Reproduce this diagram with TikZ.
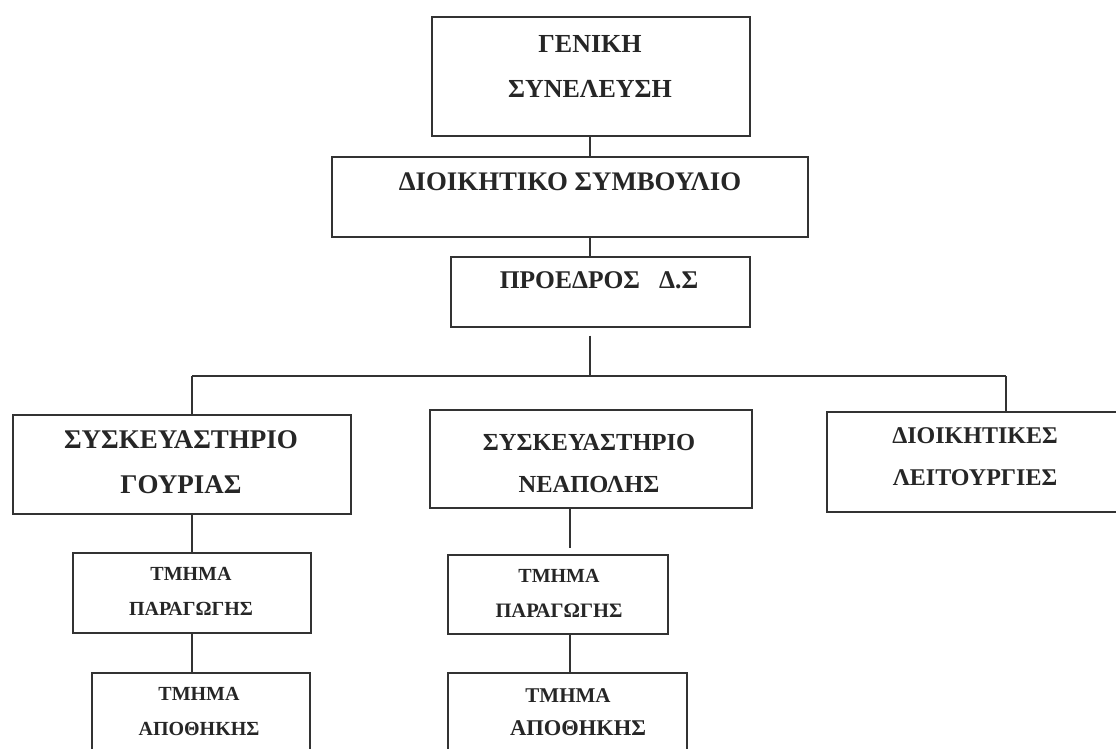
\documentclass[tikz,border=0pt]{standalone}
\usepackage{fontspec}
\setmainfont{Liberation Serif}
\begin{document}
\begin{tikzpicture}[x=1pt,y=-1pt,
  box/.style={draw=black!80,line width=1.3pt,rectangle,inner sep=0pt,minimum width=#1},
  lbl/.style={inner sep=0pt,anchor=base,text=black!85,font=\fontsize{#1pt}{#1pt}\bfseries\selectfont},
  wire/.style={draw=black!80,line width=1.3pt}]
\useasboundingbox (0,0) rectangle (1116,748);
\clip (0,0) rectangle (1116,748);
\fill[white] (0,0) rectangle (1116,748);
% boxes
\node[box=318pt,minimum height=119pt] (b1) at (591,76.5) {};
\node[box=476pt,minimum height=80pt] (b2) at (570,197) {};
\node[box=299pt,minimum height=70pt] (b3) at (600.5,292) {};
\node[box=338pt,minimum height=99pt] (g1) at (182,464.5) {};
\node[box=322pt,minimum height=98pt] (n1) at (591,459) {};
\node[box=298pt,minimum height=100pt] (d1) at (976,462) {};
\node[box=238pt,minimum height=80pt] (gp) at (192,593) {};
\node[box=218pt,minimum height=120pt] (ga) at (201,733) {};
\node[box=220pt,minimum height=79pt] (np) at (558,594.5) {};
\node[box=239pt,minimum height=120pt] (na) at (567.5,733) {};
% texts
\node[lbl=26] (t1a) at (590,52) {ΓΕΝΙΚΗ};
\node[lbl=26] (t1b) at (590,97) {ΣΥΝΕΛΕΥΣΗ};
\node[lbl=26.8] (t2) at (570,190) {ΔΙΟΙΚΗΤΙΚΟ ΣΥΜΒΟΥΛΙΟ};
\node[lbl=25.5] (t3) at (599,288) {ΠΡΟΕΔΡΟΣ\hspace{0.5em} Δ.Σ};
\node[lbl=27] (tg1) at (181,448) {ΣΥΣΚΕΥΑΣΤΗΡΙΟ};
\node[lbl=27] (tg2) at (181,493) {ΓΟΥΡΙΑΣ};
\node[lbl=24.5] (tn1) at (589,450) {ΣΥΣΚΕΥΑΣΤΗΡΙΟ};
\node[lbl=24.5] (tn2) at (589,492) {ΝΕΑΠΟΛΗΣ};
\node[lbl=24] (td1) at (975,443) {ΔΙΟΙΚΗΤΙΚΕΣ};
\node[lbl=24] (td2) at (975,485) {ΛΕΙΤΟΥΡΓΙΕΣ};
\node[lbl=20] (tgp1) at (191,580) {ΤΜΗΜΑ};
\node[lbl=20] (tgp2) at (191,615) {ΠΑΡΑΓΩΓΗΣ};
\node[lbl=20] (tga1) at (199,700) {ΤΜΗΜΑ};
\node[lbl=20] (tga2) at (199,735) {ΑΠΟΘΗΚΗΣ};
\node[lbl=20] (tnp1) at (559,582) {ΤΜΗΜΑ};
\node[lbl=20.5] (tnp2) at (559,617) {ΠΑΡΑΓΩΓΗΣ};
\node[lbl=21] (tna1) at (568,702) {ΤΜΗΜΑ};
\node[lbl=22.5] (tna2) at (578,735) {ΑΠΟΘΗΚΗΣ};
% connectors
\coordinate (j) at (590,376);
\coordinate (jl) at (192,376);
\coordinate (jr) at (1006,376);
\draw[wire] (b1.south -| j) -- (b2.north -| j);
\draw[wire] (b2.south -| j) -- (b3.north -| j);
\draw[wire,shorten <=8pt] (b3.south -| j) -- (j);
\draw[wire] (jl) -- (jr);
\draw[wire] (jl) -- (jl |- g1.north);
\draw[wire] (jr) -- (jr |- d1.north);
\draw[wire] (g1.south -| jl) -- (gp.north -| jl);
\draw[wire] (gp.south -| jl) -- (ga.north -| jl);
\coordinate (nx) at (570,500);
\draw[wire,shorten >=6pt] (n1.south -| nx) -- (np.north -| nx);
\draw[wire] (np.south -| nx) -- (na.north -| nx);
\end{tikzpicture}
\end{document}
